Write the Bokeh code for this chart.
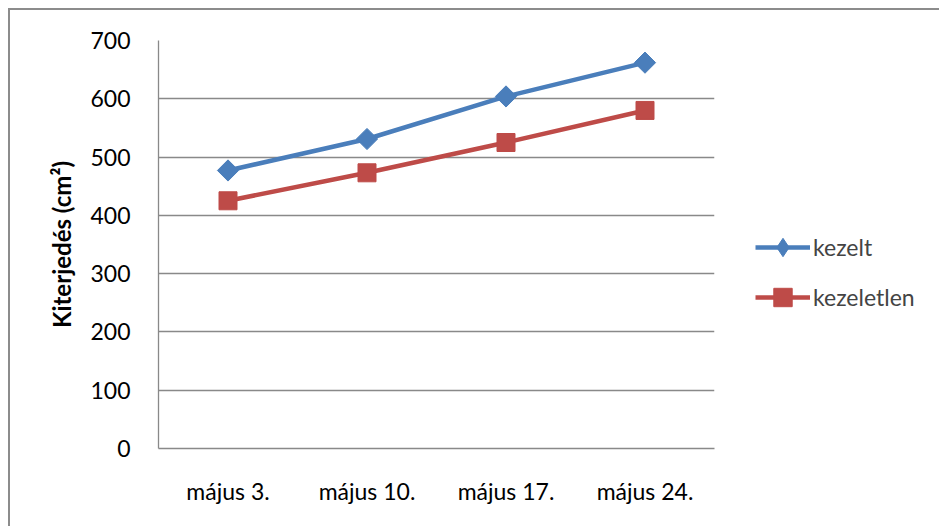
import math
from bokeh.plotting import figure
from bokeh.models import Range1d, FactorRange, Legend, LegendItem, FixedTicker
from bokeh.layouts import column
from bokeh.embed import file_html
from bokeh.resources import INLINE

categories = ["május 3.", "május 10.", "május 17.", "május 24."]
kezelt = [477, 531, 604, 662]
kezeletlen = [425, 473, 525, 580]
y_ticks = [0, 100, 200, 300, 400, 500, 600, 700]

FONT = "Lato"
GRID = "#898989"
FS = "23px"

p = figure(width=929, height=516, x_range=FactorRange(*categories), y_range=Range1d(0, 700),
           output_backend="svg", toolbar_location=None,
           frame_width=556, frame_height=408,
           min_border_left=148, min_border_right=225, min_border_top=30, min_border_bottom=78)
p.outline_line_color = None
p.background_fill_color = "white"
p.border_fill_color = "white"

p.xgrid.grid_line_color = None
p.ygrid.grid_line_color = GRID
p.ygrid.grid_line_width = 1.3
p.yaxis.ticker = FixedTicker(ticks=y_ticks)

for ax in (p.xaxis[0], p.yaxis[0]):
    ax.axis_line_color = GRID
    ax.axis_line_width = 1.3
    ax.major_tick_line_color = None
    ax.minor_tick_line_color = None
    ax.major_label_text_font = FONT
    ax.major_label_text_font_size = FS
    ax.major_label_text_color = "black"

p.yaxis.major_label_standoff = 22
p.xaxis.major_label_standoff = 22
p.yaxis.axis_label = "Kiterjedés (cm²)"
p.yaxis.axis_label_text_font = FONT
p.yaxis.axis_label_text_font_style = "bold"
p.yaxis.axis_label_text_font_size = "24px"
p.yaxis.axis_label_text_color = "black"
p.yaxis.axis_label_standoff = 11

blue = "#4A7EBB"
red = "#BE4B48"

l1 = p.line(categories, kezelt, line_color=blue, line_width=4.5)
s1 = p.scatter(categories, kezelt, marker="square", angle=math.pi / 4, size=15,
               fill_color=blue, line_color=blue)
l2 = p.line(categories, kezeletlen, line_color=red, line_width=4.5)
s2 = p.scatter(categories, kezeletlen, marker="square", size=18, fill_color=red, line_color=red)

# legend-only diamond, placed outside the visible y range
s1_leg = p.scatter(x=categories[:1], y=[-1000], marker="diamond", fill_color=blue, line_color=blue)

legend = Legend(items=[LegendItem(label="kezelt", renderers=[l1, s1_leg]),
                       LegendItem(label="kezeletlen", renderers=[l2, s2])],
                location=(41, 128), glyph_width=55, glyph_height=46, spacing=4,
                label_text_font=FONT, label_text_font_size=FS, label_standoff=3,
                border_line_color=None, background_fill_alpha=0, padding=0, margin=0)
p.add_layout(legend, "right")

layout = column(p, styles={"margin-left": "8px", "margin-top": "8px",
                           "border-top": "2px solid #8c8c8c", "border-left": "2px solid #8c8c8c"})

open("out.html", "w").write(file_html(layout, INLINE))
